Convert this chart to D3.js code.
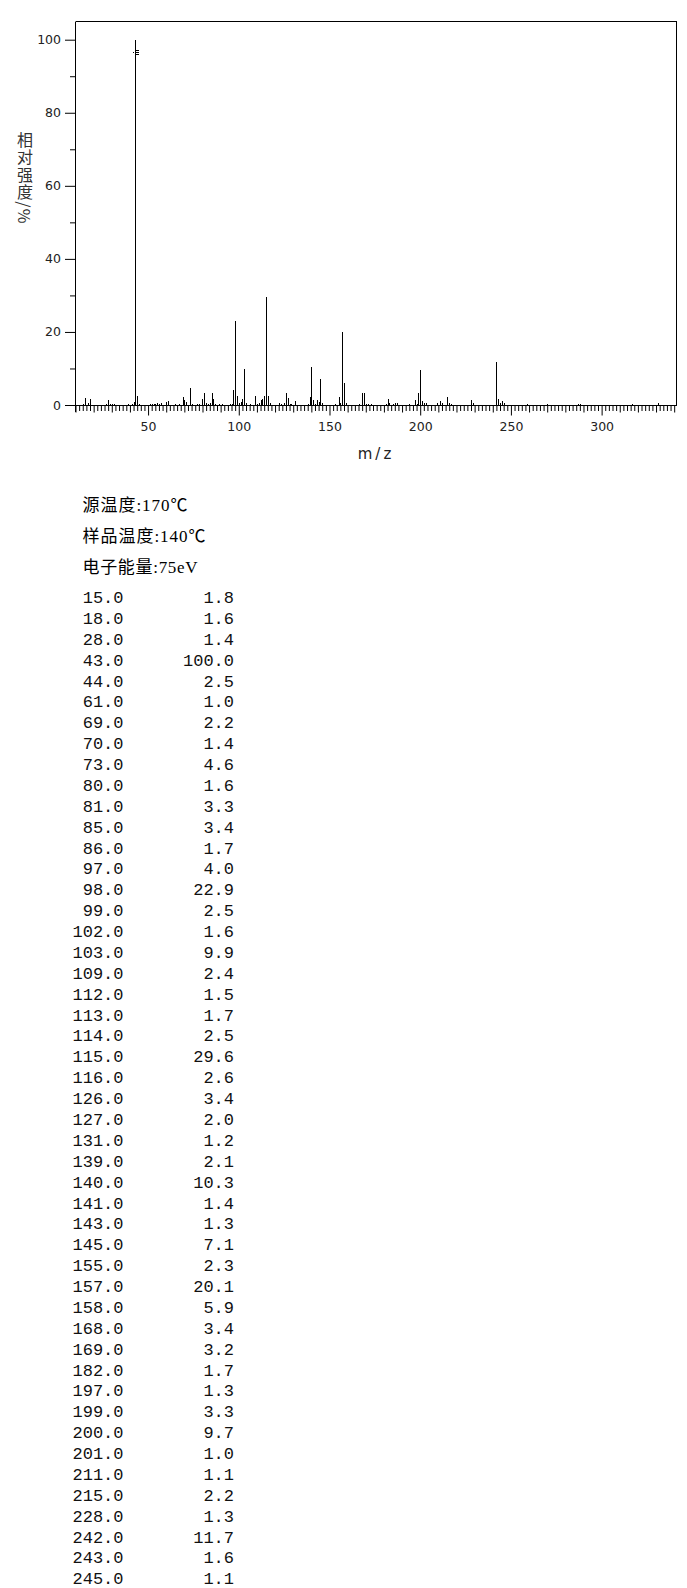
<!DOCTYPE html>
<html>
<head>
<meta charset="utf-8">
<script src="https://cdn.jsdelivr.net/npm/d3@7"></script>
<style>
  html, body { margin: 0; padding: 0; background: #fff; }
  #wrap { position: relative; width: 687px; height: 1588px; overflow: hidden; }
  svg { display: block; position: absolute; left: 0; top: 0; }
  #ytitle { position: absolute; left: 17px; top: 132px; width: 16px; line-height: 16px;
            writing-mode: vertical-rl; text-orientation: mixed; white-space: nowrap;
            font-family: "Noto Sans CJK SC", sans-serif; font-size: 16px; color: #333; letter-spacing: 1.3px; }
</style>
</head>
<body>
<div id="wrap">
<svg id="chart" width="687" height="1588"></svg>
<div id="ytitle"></div>
</div>
<script>
// ---- data ----
const listedMz = [15,18,28,43,44,61,69,70,73,80,81,85,86,97,98,99,102,103,109,112,113,114,115,116,126,127,131,139,140,141,143,145,155,157,158,168,169,182,197,199,200,201,211,215,228,242,243,245];
const listedIntensity = [1.8,1.6,1.4,100.0,2.5,1.0,2.2,1.4,4.6,1.6,3.3,3.4,1.7,4.0,22.9,2.5,1.6,9.9,2.4,1.5,1.7,2.5,29.6,2.6,3.4,2.0,1.2,2.1,10.3,1.4,1.3,7.1,2.3,20.1,5.9,3.4,3.2,1.7,1.3,3.3,9.7,1.0,1.1,2.2,1.3,11.7,1.6,1.1];
const minorMz = [14,17,27,29,30,31,39,41,42,45,51,52,53,54,55,56,57,60,65,67,71,74,77,78,82,83,84,87,89,91,95,96,100,101,104,106,110,111,117,122,123,125,128,129,138,142,144,146,153,156,159,166,170,171,173,181,183,185,186,187,194,198,202,203,209,212,216,217,229,244,246,259,270,287,288,317,331];
const minorIntensity = [0.4,0.5,0.4,0.4,0.4,0.4,0.4,0.4,0.8,0.4,0.4,0.4,0.4,0.3,0.6,0.3,0.6,0.8,0.4,0.4,0.8,0.4,0.4,0.4,0.6,0.4,0.5,0.4,0.4,0.4,0.4,0.4,0.5,0.8,0.6,0.3,0.4,0.5,0.5,0.5,0.3,0.6,0.4,0.3,0.4,0.4,0.9,0.5,0.4,0.6,0.6,0.4,0.4,0.4,0.4,0.4,0.5,0.4,0.6,0.5,0.4,0.4,0.5,0.6,0.6,0.5,0.5,0.4,0.5,0.5,0.5,0.4,0.4,0.4,0.4,0.4,0.5];
const yMajorTicks = [0,20,40,60,80,100];
const yMinorTicks = [10,30,50,70,90];
const xLabelTicks = [50,100,150,200,250,300];
const headerLines = ["源温度:170℃", "样品温度:140℃", "电子能量:75eV"];
const headerWidths = [105, 123, 115];
const yAxisTitle = "相对强度/%";
const xAxisTitle = "m/z";

// ---- layout ----
const svg = d3.select("#chart");
const x = d3.scaleLinear().domain([10, 341]).range([75.5, 676]);
const y = d3.scaleLinear().domain([0, 100]).range([405, 39.7]);
const INK = "#000";
const TXT = "#222";

d3.select("#ytitle").text(yAxisTitle);

// frame (top, right)
const frame = svg.append("g").attr("stroke", INK).attr("stroke-width", 1).attr("shape-rendering", "crispEdges");
frame.append("line").attr("x1", 75.5).attr("x2", 676.5).attr("y1", 21.5).attr("y2", 21.5);
frame.append("line").attr("x1", 676.5).attr("x2", 676.5).attr("y1", 21.5).attr("y2", 405.5);

// y axis
const yAxisG = svg.append("g").attr("transform", "translate(75,0)")
  .call(d3.axisLeft(y).tickValues(yMajorTicks).tickSize(10).tickPadding(4).tickFormat(d3.format("d")));
yAxisG.select(".domain").attr("d", `M0.5,21.5V412`).attr("stroke", INK);
yAxisG.selectAll(".tick line").attr("stroke", INK);
yAxisG.selectAll("text").attr("font-family", "DejaVu Sans, sans-serif").attr("font-size", 12.5).attr("fill", TXT);
const yMinorG = svg.append("g").attr("transform", "translate(75,0)")
  .call(d3.axisLeft(y).tickValues(yMinorTicks).tickSize(5).tickFormat(""));
yMinorG.select(".domain").remove();
yMinorG.selectAll(".tick line").attr("stroke", INK);

// x axis: baseline, minor ticks (every 2), medium (every 10), labelled (every 50)
const xTicksAll = d3.range(10, 341, 2);
const xMinor = xTicksAll.filter(d => d % 10 !== 0);
const xMedium = xTicksAll.filter(d => d % 10 === 0 && d % 50 !== 0);
const base = svg.append("g").attr("transform", "translate(0,405)");
const xMinorG = base.append("g").call(d3.axisBottom(x).tickValues(xMinor).tickSize(6).tickFormat(""));
xMinorG.select(".domain").attr("d", "M65,0.5H676.5").attr("stroke", INK);
const xMedG = base.append("g").call(d3.axisBottom(x).tickValues(xMedium).tickSize(7.5).tickFormat(""));
xMedG.select(".domain").remove();
const xMajG = base.append("g").call(d3.axisBottom(x).tickValues(xLabelTicks).tickSize(10.5).tickPadding(7).tickFormat(d3.format("d")));
xMajG.select(".domain").remove();
base.selectAll(".tick line").attr("stroke", INK);
xMajG.selectAll("text").attr("font-family", "DejaVu Sans, sans-serif").attr("font-size", 12.5).attr("fill", TXT);

// x axis title
svg.append("text").attr("x", 376).attr("y", 459)
  .attr("text-anchor", "middle").attr("font-family", "DejaVu Sans, sans-serif")
  .attr("font-size", 15).attr("letter-spacing", 3).attr("fill", TXT).text(xAxisTitle);

// peaks
const peaks = listedMz.map((m, i) => ({mz: m, v: listedIntensity[i]}))
  .concat(minorMz.map((m, i) => ({mz: m, v: minorIntensity[i]})));
const px = d => Math.round(x(d.mz)) + 0.5;
svg.append("g").attr("stroke", INK).attr("stroke-width", 1).attr("shape-rendering", "crispEdges")
  .selectAll("line").data(peaks).join("line")
  .attr("x1", px).attr("x2", px)
  .attr("y1", y(0)).attr("y2", d => Math.round(y(d.v)));

// base peak marker
const bp = peaks.reduce((a, b) => (b.v > a.v ? b : a));
const bx = px(bp);
const mk = svg.append("g").attr("stroke", INK).attr("stroke-width", 1).attr("shape-rendering", "crispEdges");
[50.5, 52.5, 54.5].forEach(yy => mk.append("line").attr("x1", bx).attr("x2", bx + 3).attr("y1", yy).attr("y2", yy));
mk.append("line").attr("x1", bx - 3).attr("x2", bx - 2).attr("y1", 52.5).attr("y2", 52.5);

// header text
const hdr = svg.append("g").attr("font-family", "Liberation Serif, Noto Sans CJK SC, serif").attr("font-size", 17).attr("fill", "#000");
headerLines.forEach((t, i) => {
  hdr.append("text").attr("x", 82.5).attr("y", 511 + i * 31)
    .attr("textLength", headerWidths[i]).attr("lengthAdjust", "spacing").text(t);
});

// peak table
const tbl = svg.append("g").attr("font-family", "Liberation Mono, monospace").attr("font-size", 17).attr("fill", "#111");
listedMz.forEach((m, i) => {
  const yy = 603 + i * 20.88;
  tbl.append("text").attr("x", 123.5).attr("y", yy).attr("text-anchor", "end").text(m.toFixed(1));
  tbl.append("text").attr("x", 234).attr("y", yy).attr("text-anchor", "end").text(listedIntensity[i].toFixed(1));
});
</script>
</body>
</html>
